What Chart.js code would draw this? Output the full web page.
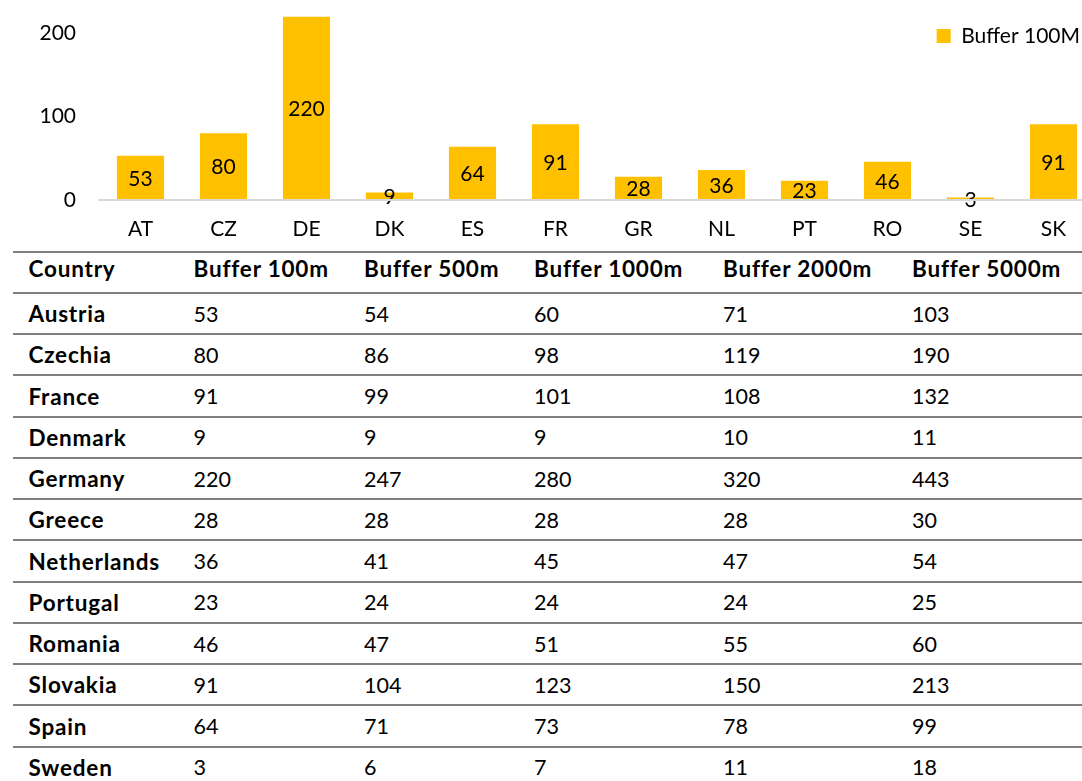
<!DOCTYPE html>
<html>
<head>
<meta charset="utf-8">
<script src="https://cdn.jsdelivr.net/npm/chart.js@4.4.1/dist/chart.umd.min.js"></script>
<style>
html,body{margin:0;padding:0;background:#fff;width:1082px;height:781px;overflow:hidden;}
#chartBox{position:absolute;left:0;top:0;width:1095px;height:250px;}
#tbl{position:absolute;left:13px;top:250.7px;width:1110px;font-family:Lato,"Open Sans",sans-serif;color:#000;}
.row{height:41.25px;box-sizing:border-box;border-top:2px solid #7f7f7f;display:flex;align-items:center;font-size:21.5px;}
.row.head{padding-bottom:7px;}
.cell{box-sizing:border-box;white-space:nowrap;flex:none;}
.b{font-weight:700;font-size:22.5px;letter-spacing:0.8px;}
</style>
</head>
<body>
<div id="chartBox"><canvas id="c" width="1095" height="250"></canvas></div>
<div id="tbl"></div>
<script>
// ---- chart data ----
const categories = ['AT','CZ','DE','DK','ES','FR','GR','NL','PT','RO','SE','SK'];
const chartValues = [53,80,220,9,64,91,28,36,23,46,3,91];
const seriesLabel = 'Buffer 100M';
const yTickValues = [0,100,200];

// ---- table data ----
const tableHeaders = ['Country','Buffer 100m','Buffer 500m','Buffer 1000m','Buffer 2000m','Buffer 5000m'];
const countries = ['Austria','Czechia','France','Denmark','Germany','Greece','Netherlands','Portugal','Romania','Slovakia','Spain','Sweden'];
const buffer100 = [53,80,91,9,220,28,36,23,46,91,64,3];
const buffer500 = [54,86,99,9,247,28,41,24,47,104,71,6];
const buffer1000 = [60,98,101,9,280,28,45,24,51,123,73,7];
const buffer2000 = [71,119,108,10,320,28,47,24,55,150,78,11];
const buffer5000 = [103,190,132,11,443,30,54,25,60,213,99,18];

const colWidths = [180.5,170.5,170,189,189,200];

function buildTable(){
  const tbl = document.getElementById('tbl');
  const mkRow = (cells, head) => {
    const r = document.createElement('div');
    r.className = 'row' + (head ? ' head' : '');
    cells.forEach((t, i) => {
      const c = document.createElement('div');
      c.className = 'cell' + ((head || i === 0) ? ' b' : '');
      c.style.width = colWidths[i] + 'px';
      if (i === 0) c.style.paddingLeft = '15.5px';
      c.textContent = t;
      r.appendChild(c);
    });
    tbl.appendChild(r);
  };
  mkRow(tableHeaders, true);
  countries.forEach((name, k) => {
    mkRow([name, buffer100[k], buffer500[k], buffer1000[k], buffer2000[k], buffer5000[k]], false);
  });
}
buildTable();

const FONT = 'Lato';
const barLabels = {
  id: 'barLabels',
  afterDatasetsDraw(chart) {
    const ctx = chart.ctx;
    const meta = chart.getDatasetMeta(0);
    const data = chart.data.datasets[0].data;
    ctx.save();
    ctx.font = '21px ' + FONT;
    ctx.fillStyle = '#000';
    ctx.textAlign = 'center';
    ctx.textBaseline = 'middle';
    meta.data.forEach((bar, i) => {
      const p = bar.getCenterPoint();
      ctx.fillText(String(data[i]), p.x, p.y + 1);
    });
    ctx.restore();
  }
};
const legendPlace = {
  id: 'legendPlace',
  afterLayout(chart) {
    const lg = chart.legend;
    if (!lg || !lg.legendHitBoxes || !lg.legendHitBoxes.length) return;
    const pad = lg.options.labels.padding;
    const w = lg.legendHitBoxes[0].width;
    const h = lg.legendHitBoxes[0].height;
    const area = chart.chartArea;
    const left = area.right - 15 - w - pad;
    const top = 36 - h / 2 - pad;
    const lw = lg.width, lh = lg.height;
    lg.left = left; lg.right = left + lw;
    lg.top = top; lg.bottom = top + lh;
  }
};

function draw(){
  new Chart(document.getElementById('c'), {
    type: 'bar',
    data: {
      labels: categories,
      datasets: [{
        label: seriesLabel,
        data: chartValues,
        backgroundColor: '#FFC000',
        borderWidth: 0,
        categoryPercentage: 1,
        barPercentage: 0.568
      }]
    },
    options: {
      responsive: false,
      animation: false,
      devicePixelRatio: 1,
      layout: { padding: 0, autoPadding: false },
      plugins: {
        legend: {
          position: 'chartArea',
          fullSize: false,
          align: 'start',
          labels: { boxWidth: 14, boxHeight: 14, padding: 10, color: '#000', font: { family: FONT, size: 21 } }
        },
        tooltip: { enabled: false }
      },
      scales: {
        x: {
          grid: { display: false, drawTicks: false },
          border: { display: true, color: '#d9d9d9', width: 2, z: 1 },
          ticks: { color: '#000', font: { family: FONT, size: 21 }, padding: 17, maxRotation: 0, autoSkip: false },
          afterFit(s) { s.height = 50; }
        },
        y: {
          min: 0, max: 240,
          afterBuildTicks(s) { s.ticks = yTickValues.map(v => ({ value: v })); },
          grid: { display: false, drawTicks: false },
          border: { display: false },
          ticks: { color: '#000', font: { family: FONT, size: 21 }, padding: 23 },
          afterFit(s) { s.width = 99; s.paddingTop = 0; s.paddingBottom = 0; }
        }
      }
    },
    plugins: [barLabels, legendPlace]
  });
}
if (document.fonts && document.fonts.load) {
  Promise.all([document.fonts.load('21px Lato'), document.fonts.load('700 22px Lato')]).then(draw, draw);
} else { draw(); }
</script>
</body>
</html>
